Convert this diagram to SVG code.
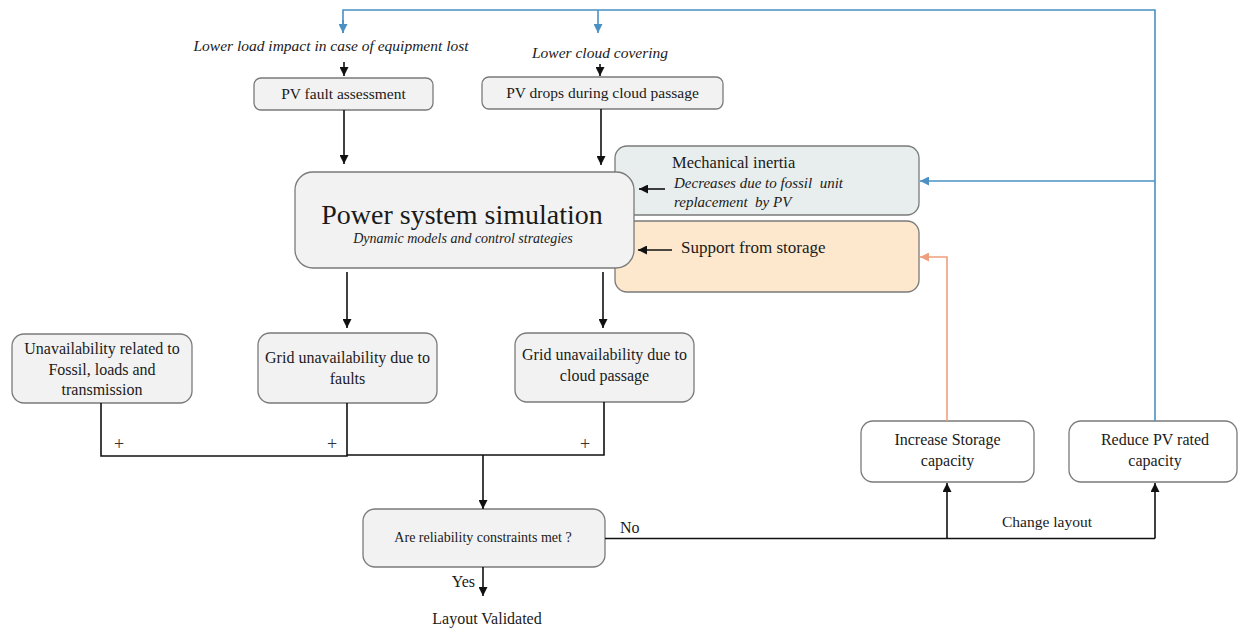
<svg xmlns="http://www.w3.org/2000/svg" width="1239" height="628" viewBox="0 0 1239 628">
<defs>
<style>
text{font-family:"Liberation Serif","Times New Roman",serif;fill:#1a1a1a}
.it{font-style:italic}
.pre{white-space:pre}
.box{fill:#f2f2f2;stroke:#7a7a7a;stroke-width:1.3}
.wbox{fill:#ffffff;stroke:#7a7a7a;stroke-width:1.3}
.ln{fill:none;stroke:#111;stroke-width:1.6}
.bl{fill:none;stroke:#4a90c4;stroke-width:1.6}
.or{fill:none;stroke:#ee9f7d;stroke-width:1.6}
.c{text-anchor:middle}
.plus{font-size:18px;fill:#333}
</style>
<marker id="ak" viewBox="0 0 10 10" refX="10" refY="5" markerWidth="9" markerHeight="9" markerUnits="userSpaceOnUse" orient="auto"><path d="M0,0 L10,5 L0,10 z" fill="#111"/></marker>
<marker id="ab" viewBox="0 0 10 10" refX="10" refY="5" markerWidth="9" markerHeight="9" markerUnits="userSpaceOnUse" orient="auto"><path d="M0,0 L10,5 L0,10 z" fill="#4a90c4"/></marker>
<marker id="ao" viewBox="0 0 10 10" refX="10" refY="5" markerWidth="9" markerHeight="9" markerUnits="userSpaceOnUse" orient="auto"><path d="M0,0 L10,5 L0,10 z" fill="#ee9f7d"/></marker>
</defs>
<rect width="1239" height="628" fill="#ffffff"/>

<g id="mech">
<rect x="615" y="146" width="304" height="69" rx="12" fill="#e8eeed" stroke="#7a7a7a" stroke-width="1.3"/>
<text x="672" y="168" font-size="16.5">Mechanical inertia</text>
<text x="674" y="188" font-size="15" class="it pre">Decreases due to fossil  unit</text>
<text x="674" y="207" font-size="15" class="it pre">replacement  by PV</text>
</g>
<g id="storage">
<rect x="615" y="221" width="304" height="71" rx="12" fill="#fde8cd" stroke="#7a7a7a" stroke-width="1.3"/>
<text x="681" y="253" font-size="17">Support from storage</text>
</g>
<g id="power">
<rect class="box" x="295" y="172" width="339" height="96" rx="18"/>
<text class="c" x="462" y="224" font-size="28">Power system simulation</text>
<text class="c it" x="463" y="243" font-size="14">Dynamic models and control strategies</text>
</g>
<g id="top-labels">
<text class="c it" x="331" y="51" font-size="15.5">Lower load impact in case of equipment lost</text>
<text class="c it" x="600" y="58" font-size="15.5">Lower cloud covering</text>
</g>
<g id="pvfault">
<rect class="box" x="254" y="78" width="179" height="32" rx="7"/>
<text class="c" x="343.5" y="99" font-size="15.5">PV fault assessment</text>
</g>
<g id="pvdrops">
<rect class="box" x="482" y="77" width="241" height="32" rx="7"/>
<text class="c" x="602.5" y="98" font-size="15.5">PV drops during cloud passage</text>
</g>
<g id="unavail">
<rect class="box" x="12" y="334" width="180" height="69" rx="12"/>
<text class="c" x="102" y="354" font-size="16">Unavailability related to</text>
<text class="c" x="102" y="375" font-size="16">Fossil, loads and</text>
<text class="c" x="102" y="395" font-size="16">transmission</text>
</g>
<g id="gridfaults">
<rect class="box" x="258" y="333" width="179" height="70" rx="12"/>
<text class="c" x="347.5" y="363" font-size="16">Grid unavailability due to</text>
<text class="c" x="347.5" y="384" font-size="16">faults</text>
</g>
<g id="gridcloud">
<rect class="box" x="515" y="333" width="179" height="69" rx="12"/>
<text class="c" x="604.5" y="360" font-size="16">Grid unavailability due to</text>
<text class="c" x="604.5" y="381" font-size="16">cloud passage</text>
</g>
<g id="decision">
<rect class="box" x="363" y="509" width="242" height="58" rx="12"/>
<text class="c" x="483" y="542" font-size="14">Are reliability constraints met ?</text>
</g>
<g id="storage-inc">
<rect class="wbox" x="861" y="421" width="173" height="61" rx="12"/>
<text class="c" x="947.5" y="445" font-size="16">Increase Storage</text>
<text class="c" x="947.5" y="466" font-size="16">capacity</text>
</g>
<g id="pv-reduce">
<rect class="wbox" x="1069" y="421" width="168" height="61" rx="12"/>
<text class="c" x="1155" y="445" font-size="16">Reduce PV rated</text>
<text class="c" x="1155" y="466" font-size="16">capacity</text>
</g>
<g id="validated">
<text class="c" x="487" y="624" font-size="16">Layout Validated</text>
</g>

<g id="connectors">
<path class="bl" d="M343,33 V10 H1155 V421"/>
<path class="bl" d="M598,10 V33" marker-end="url(#ab)"/>
<path class="bl" d="M343,20 V33" marker-end="url(#ab)"/>
<path class="bl" d="M1155,181 H920" marker-end="url(#ab)"/>
<path class="or" d="M947,421 V257 H920" marker-end="url(#ao)"/>
<path class="ln" d="M344,62 V76" marker-end="url(#ak)"/>
<path class="ln" d="M600,64 V76" marker-end="url(#ak)"/>
<path class="ln" d="M344,110 V164" marker-end="url(#ak)"/>
<path class="ln" d="M601,109 V165" marker-end="url(#ak)"/>
<path class="ln" d="M665,189 H639" marker-end="url(#ak)"/>
<path class="ln" d="M672,250 H638" marker-end="url(#ak)"/>
<path class="ln" d="M347,272 V328" marker-end="url(#ak)"/>
<path class="ln" d="M603,272 V328" marker-end="url(#ak)"/>
<path class="ln" d="M101,403 V456 H347 V403"/>
<path class="ln" d="M347,455 H604 V402"/>
<path class="ln" d="M483,455 V509" marker-end="url(#ak)"/>
<path class="ln" d="M483,567 V596" marker-end="url(#ak)"/>
<path class="ln" d="M605,538.5 H1155"/>
<path class="ln" d="M947,538.5 V483" marker-end="url(#ak)"/>
<path class="ln" d="M1155,538.5 V483" marker-end="url(#ak)"/>
<text class="plus" x="114" y="450">+</text>
<text class="plus" x="327" y="450">+</text>
<text class="plus" x="580" y="450">+</text>
<text x="620" y="533" font-size="16">No</text>
<text x="475" y="587" font-size="16" text-anchor="end">Yes</text>
<text class="c" x="1047" y="527" font-size="15.5">Change layout</text>
</g>
</svg>
